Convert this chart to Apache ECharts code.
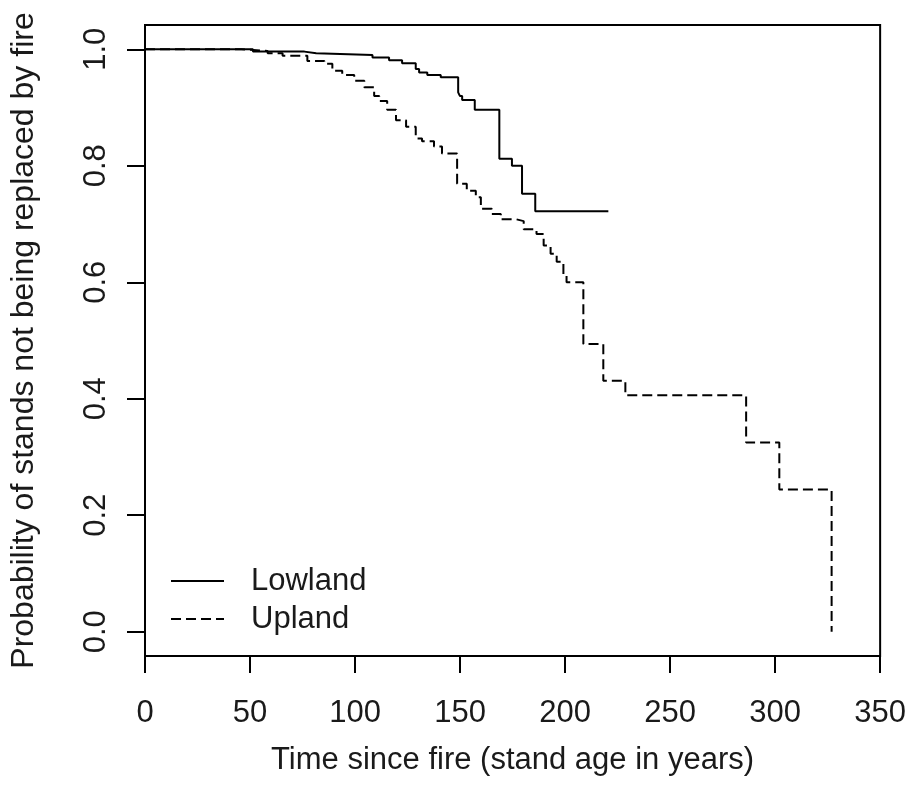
<!DOCTYPE html>
<html>
<head>
<meta charset="utf-8">
<script src="https://cdn.jsdelivr.net/npm/echarts@6/dist/echarts.min.js"></script>
<style>
html,body{margin:0;padding:0;background:#fff;}
#chart{width:909px;height:804px;}
</style>
</head>
<body>
<div id="chart"></div>
<script>
// Kaplan-Meier style step curves (time, survival after the step)
const lowlandTime = [0, 51.4, 75.9, 81.5, 108.3, 116.2, 122.4, 128.9, 130.5, 134.4, 140.8, 149.1, 149.9, 151.0, 157.0, 168.7, 174.7, 179.5, 185.8, 220.6];
const lowlandSurv = [1.0, 0.996, 0.993, 0.990, 0.986, 0.981, 0.976, 0.966, 0.960, 0.956, 0.952, 0.926, 0.920, 0.913, 0.896, 0.812, 0.800, 0.752, 0.722, 0.722];

const uplandTime = [0, 45.9, 58.4, 65.5, 77.3, 85.4, 89.2, 93.9, 99.6, 104.4, 109.1, 111.5, 115.3, 119.5, 124.3, 128.9, 131.9, 137.6, 141.4, 148.6, 153.2, 157.5, 159.9, 165.1, 169.4, 176.9, 180.3, 186.4, 189.8, 193.1, 196.0, 199.2, 200.7, 208.7, 218.2, 228.7, 286.2, 302.0, 326.9];
const uplandSurv = [1.0, 0.997, 0.993, 0.989, 0.980, 0.975, 0.963, 0.956, 0.946, 0.935, 0.920, 0.911, 0.896, 0.878, 0.867, 0.847, 0.842, 0.833, 0.821, 0.769, 0.757, 0.746, 0.726, 0.717, 0.708, 0.705, 0.691, 0.683, 0.663, 0.649, 0.635, 0.612, 0.600, 0.494, 0.431, 0.406, 0.325, 0.244, 0.0];

const yTicks = [0, 0.2, 0.4, 0.6, 0.8, 1.0];
const seriesNames = ['Lowland', 'Upland'];

const zip = (a, b) => a.map((v, i) => [v, b[i]]);
const FONT = 'Liberation Sans, Arial, sans-serif';
const TXT = '#1a1a1a';

const chart = echarts.init(document.getElementById('chart'), null, {renderer: 'canvas'});
chart.setOption({
  backgroundColor: '#ffffff',
  animation: false,
  grid: {
    left: 145, right: 26, top: 25, bottom: 148,
    show: true, borderColor: '#000', borderWidth: 2, containLabel: false
  },
  legend: {
    orient: 'vertical',
    left: 170, top: 562,
    padding: 0,
    itemGap: 0,
    itemWidth: 53,
    itemHeight: 14,
    data: seriesNames,
    itemStyle: {color: 'transparent', borderColor: 'transparent', borderWidth: 0, opacity: 0},
    textStyle: {
      fontFamily: FONT, fontSize: 31, color: TXT,
      lineHeight: 36, padding: [2, 0, 0, 22]
    }
  },
  xAxis: {
    type: 'value',
    min: 0, max: 350, interval: 50,
    name: 'Time since fire (stand age in years)',
    nameLocation: 'middle',
    nameGap: 89,
    nameTextStyle: {fontFamily: FONT, fontSize: 31, color: TXT},
    axisLine: {show: true, onZero: false, lineStyle: {color: '#000', width: 2}},
    axisTick: {show: true, inside: false, length: 17, lineStyle: {color: '#000', width: 2}},
    axisLabel: {fontFamily: FONT, fontSize: 31, color: TXT, margin: 42},
    splitLine: {show: false}
  },
  yAxis: {
    type: 'value',
    min: -0.0417, max: 1.0417,
    name: 'Probability of stands not being replaced by fire',
    nameLocation: 'middle',
    nameGap: 105,
    nameTextStyle: {fontFamily: FONT, fontSize: 32, color: TXT},
    axisLine: {show: true, onZero: false, lineStyle: {color: '#000', width: 2}},
    axisTick: {show: true, inside: false, length: 18, customValues: yTicks, lineStyle: {color: '#000', width: 2}},
    axisLabel: {
      fontFamily: FONT, fontSize: 31, color: TXT, margin: 33, rotate: 90,
      customValues: yTicks,
      formatter: v => Number(v).toFixed(1)
    },
    splitLine: {show: false}
  },
  series: [
    {
      name: seriesNames[0],
      type: 'line',
      step: 'end',
      symbol: 'none',
      showSymbol: false,
      data: zip(lowlandTime, lowlandSurv),
      lineStyle: {color: '#000', width: 2, type: 'solid'},
      itemStyle: {color: '#000'}
    },
    {
      name: seriesNames[1],
      type: 'line',
      step: 'end',
      symbol: 'none',
      showSymbol: false,
      data: zip(uplandTime, uplandSurv),
      lineStyle: {color: '#000', width: 2, type: [10, 5]},
      itemStyle: {color: '#000'}
    }
  ]
});
</script>
</body>
</html>
